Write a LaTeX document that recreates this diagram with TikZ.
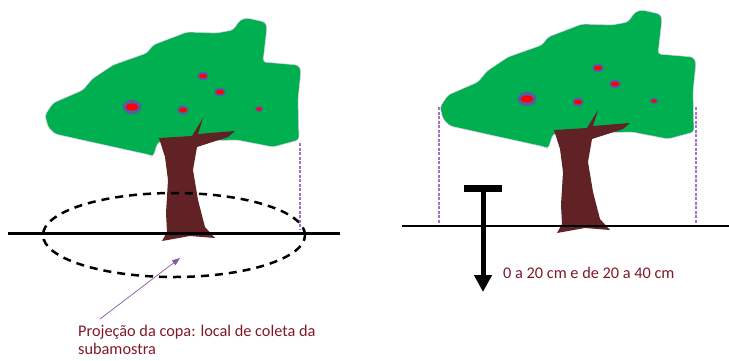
\documentclass[tikz,border=0pt]{standalone}
\usepackage{fontspec}
\setmainfont{Carlito}
\usetikzlibrary{arrows.meta,shapes.geometric}
\definecolor{leaf}{RGB}{0,176,80}
\definecolor{bark}{RGB}{96,34,36}
\definecolor{fruit}{RGB}{255,0,0}
\definecolor{halo}{RGB}{80,96,160}
\definecolor{guide}{RGB}{170,110,200}
\definecolor{labelred}{RGB}{128,24,40}
\tikzset{
  fruitpic/.pic={
    \fill[halo] (0,0) ellipse[x radius=#1*1.45, y radius=#1*1.1];
    \fill[fruit] (0,0) ellipse[x radius=#1, y radius=#1*0.55];
  },
  tree/.pic={
    % canopy
    \filldraw[leaf, draw=guide!35, line width=0.5pt, rounded corners=3pt]
      (45,115) -- (53,103) -- (83,90) -- (92,79) -- (113,65) -- (147,53)
      -- (153,45) -- (187,32) -- (217,33) -- (233,30) -- (240,20) -- (247,18)
      -- (265,22) -- (267,27) -- (263,62) -- (298,65) -- (301,70) -- (298,100)
      -- (299,140) -- (273,147) -- (237,140) -- (158,142) -- (153,157)
      -- (150,155) -- (100,144) -- (55,134) -- (48,127) -- cycle;
    % fruits
    \pic at (132,107) {fruitpic=6.5};
    \pic at (203,76) {fruitpic=4};
    \pic at (220,92) {fruitpic=4};
    \pic at (183,110) {fruitpic=4};
    \pic at (259,109) {fruitpic=2.8};
    % trunk and branches
    \fill[bark]
      (159,138) -- (192,136) -- (203,118) -- (198,134) -- (235,131)
      -- (228,137) -- (197,147) -- (193,170) -- (198,200) -- (205,227)
      -- (215,238) -- (190,236) -- (162,241) -- (167,232) -- (166,213)
      -- (168,180) -- (165,157) -- cycle;
  },
  ground/.style={line width=2.6pt, black},
  dropline/.style={guide, line width=1.1pt, dash pattern=on 3pt off 1.5pt},
  crownring/.style={ellipse, draw=black, line width=2.5pt, dash pattern=on 8pt off 6pt,
    inner sep=0pt, outer sep=0pt, minimum width=262pt, minimum height=84pt},
  note/.style={text=labelred, font=\fontsize{16.3}{17.5}\selectfont, inner sep=0pt, align=left},
}
\begin{document}
\begin{tikzpicture}[x=1pt, y=-1pt]
\useasboundingbox (0,0) rectangle (729,360);

% ---- left: tree with its crown projection on the ground ----
\pic at (0,0) {tree};
\coordinate (gl1) at (8,233.5);
\coordinate (gl2) at (340,233.5);
\draw[ground] (gl1) -- (gl2);
\node[crownring] (ring) at (174,235) {};
\coordinate (dropA) at (300,143);
\coordinate (dropB) at (300,230);
\draw[dropline] (dropA) -- (dropB);

\node[note, anchor=north west] (lbl) at (78,325) {Projeção da copa: local de coleta da\\subamostra};
\coordinate (tail) at (100,319);
\coordinate (head) at (180,258);
\draw[guide!80!black, line width=0.7pt, -{Triangle[length=8pt, width=6pt]}] (tail) -- (head);

% ---- right: tree with the sampling depth ----
\pic at (395,-8) {tree};
\coordinate (gr1) at (402,226);
\coordinate (gr2) at (729,226);
\draw[ground] (gr1) -- (gr2);
\coordinate (dl1) at (439,107);
\coordinate (dl2) at (439,223);
\coordinate (dr1) at (696,107);
\coordinate (dr2) at (696,223);
\draw[dropline] (dl1) -- (dl2);
\draw[dropline] (dr1) -- (dr2);

% soil auger: handle bar and shaft pointing down
\coordinate (barL) at (464,188.5);
\coordinate (barR) at (502,188.5);
\draw[black, line width=7pt] (barL) -- (barR);
\coordinate (shaftTop) at (483,188.5);
\coordinate (shaftTip) at (483,292);
\draw[black, line width=5pt, -{Triangle[length=17pt, width=17pt]}] (shaftTop) -- (shaftTip);

\node[note, anchor=base west] (depth) at (503,278.5) {0 a 20 cm e de 20 a 40 cm};
\end{tikzpicture}
\end{document}
